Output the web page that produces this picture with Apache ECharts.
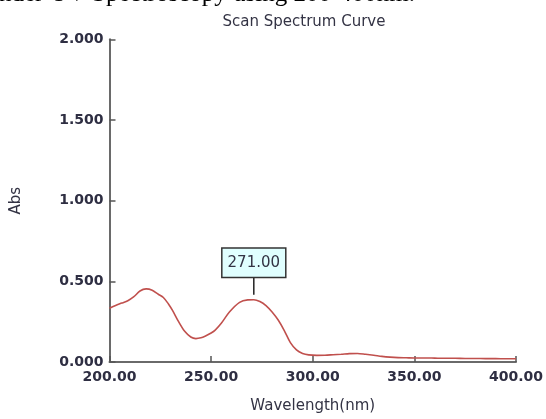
<!DOCTYPE html>
<html>
<head>
<meta charset="utf-8">
<script src="https://cdn.jsdelivr.net/npm/echarts@6/dist/echarts.min.js"></script>
<style>
html,body{margin:0;padding:0;background:#fff;}
#chart{width:546px;height:419px;}
</style>
</head>
<body>
<div id="chart"></div>
<script>
// Data
var wavelengths = [200, 203, 206, 209, 212, 215, 218, 221, 224, 226.5, 229, 231, 234, 237, 240, 242.5, 245, 247, 250, 252, 255, 259, 264, 268, 271, 274, 277, 280, 283, 286, 289, 292, 295, 298, 302, 306, 310, 314, 318, 322, 326, 330, 334, 338, 342, 346, 350, 355, 360, 365, 370, 375, 380, 385, 390, 395, 400];
var absorbance  = [0.333, 0.350, 0.365, 0.380, 0.405, 0.440, 0.453, 0.445, 0.420, 0.400, 0.360, 0.320, 0.250, 0.190, 0.155, 0.145, 0.150, 0.160, 0.180, 0.198, 0.240, 0.310, 0.370, 0.385, 0.386, 0.375, 0.350, 0.310, 0.260, 0.195, 0.120, 0.075, 0.053, 0.044, 0.041, 0.042, 0.045, 0.048, 0.052, 0.053, 0.048, 0.042, 0.035, 0.030, 0.027, 0.026, 0.025, 0.025, 0.024, 0.023, 0.023, 0.022, 0.022, 0.021, 0.021, 0.020, 0.020];
var peakWavelength = 271;
var peakAbs = 0.386;
var peakLabel = '271.00';
var xTickValues = [200, 250, 300, 350, 400];
var yTickValues = [0, 0.5, 1, 1.5, 2];
var chartTitle = 'Scan Spectrum Curve';
var xAxisName = 'Wavelength(nm)';
var yAxisName = 'Abs';
var captionText = 'nder UV Spectroscopy using 200-400nm.';

var seriesData = wavelengths.map(function (w, i) { return [w, absorbance[i]]; });

var chart = echarts.init(document.getElementById('chart'), null, {renderer: 'canvas'});
var labelColor = '#2e2e42';
var option = {
  animation: false,
  backgroundColor: '#ffffff',
  title: {
    text: chartTitle,
    left: 299,
    top: 10,
    textAlign: 'center',
    textStyle: {fontFamily: 'DejaVu Sans', fontSize: 15, fontWeight: 'normal', color: '#333344'}
  },
  graphic: [{
    type: 'text',
    left: -1,
    top: -18,
    style: {text: captionText, font: '25px "Liberation Serif"', fill: '#000'}
  }],
  grid: {left: 109.5, right: 29.3, top: 39.3, bottom: 53, containLabel: false},
  xAxis: {
    type: 'value',
    min: xTickValues[0],
    max: xTickValues[xTickValues.length - 1],
    interval: 50,
    name: xAxisName,
    nameLocation: 'middle',
    nameGap: 37,
    nameTextStyle: {fontFamily: 'DejaVu Sans', fontSize: 15, color: '#333344'},
    axisLine: {lineStyle: {color: '#6a6a6a', width: 2}},
    axisTick: {inside: true, length: 6, lineStyle: {color: '#555', width: 1.5}},
    axisLabel: {
      margin: 8,
      fontFamily: 'DejaVu Sans', fontSize: 14, fontWeight: 'bold', color: labelColor,
      formatter: function (v) { return v.toFixed(2); }
    },
    splitLine: {show: false}
  },
  yAxis: {
    type: 'value',
    min: yTickValues[0],
    max: yTickValues[yTickValues.length - 1],
    interval: 0.5,
    name: yAxisName,
    nameLocation: 'middle',
    nameGap: 86,
    nameRotate: 90,
    nameTextStyle: {fontFamily: 'DejaVu Sans', fontSize: 15, color: '#333344'},
    axisLine: {show: true, lineStyle: {color: '#6a6a6a', width: 2}},
    axisTick: {show: true, inside: true, length: 6, lineStyle: {color: '#555', width: 1.5}},
    axisLabel: {
      margin: 6,
      fontFamily: 'DejaVu Sans', fontSize: 14, fontWeight: 'bold', color: labelColor,
      formatter: function (v) { return v.toFixed(3); }
    },
    splitLine: {show: false}
  },
  series: [{
    type: 'line',
    data: seriesData,
    smooth: 0.3,
    symbol: 'none',
    lineStyle: {color: '#c0504d', width: 1.6},
    markPoint: {
      symbol: 'rect',
      symbolSize: [1.5, 18],
      symbolOffset: [0, -14],
      itemStyle: {color: '#222'},
      label: {
        show: true,
        position: 'top',
        distance: 0,
        formatter: peakLabel,
        fontFamily: 'DejaVu Sans',
        fontSize: 15,
        color: '#333344',
        backgroundColor: '#e0ffff',
        borderColor: '#333',
        borderWidth: 1.5,
        padding: [7, 5, 6, 5]
      },
      data: [{coord: [peakWavelength, peakAbs]}]
    }
  }]
};
chart.setOption(option);
</script>
</body>
</html>
